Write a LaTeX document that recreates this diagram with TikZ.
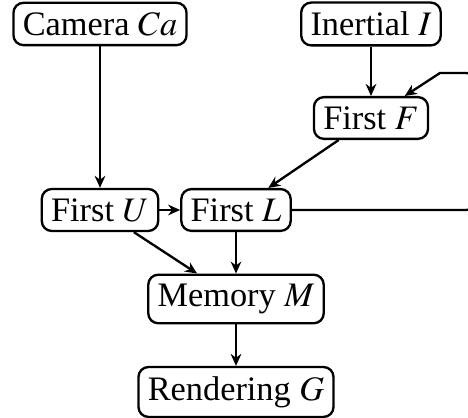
\documentclass[tikz,border=0pt]{standalone}
\usepackage{mathptmx}
\usepackage{fontspec}
\setmainfont{Liberation Serif}
\usetikzlibrary{arrows.meta, positioning}

\begin{document}
\begin{tikzpicture}[x=0.3pt, y=-0.3pt, line width=0.7pt,
    box/.style={draw, rounded corners=3pt, minimum height=12.5pt, inner xsep=2.8pt, inner ysep=2.8pt, font=\fontsize{10.3}{12}\selectfont},
    flow/.style={-{Stealth[length=3.6pt, width=3.2pt]}}]
    \useasboundingbox (0,0) rectangle (468,418);
    % Sources
    \node[box] (cam) at (100,24) {Camera $Ca$};
    \node[box] (imu) at (371,24) {Inertial $I$};
    \node[box] (F) at (371,118) {First $F$};
    % Middle row
    \node[box] (U) at (100,210) {First $U$};
    \node[box] (L) at (236,210) {First $L$};
    % Output
    \node[box] (M) at (236,299) {Memory $M$};
    \node[box] (G) at (236,392) {Rendering $G$};

    \draw[flow] (cam) -- (U);
    \draw[flow] (imu) -- (F);
    \draw[flow] (F) -- (L);
    \draw[flow] (U) -- (L);
    \draw[flow] (U) -- (M);
    \draw[flow] (L) -- (M);
    \draw[flow] (M) -- (G);
    % Feedback loop
    \coordinate (loopR) at (475,73);
    \coordinate (loopT) at (440,73);
    \draw[flow] (L.east) [rounded corners=2.6pt] -| (loopR) [sharp corners] -- (loopT) -- (F);
\end{tikzpicture}
\end{document}
